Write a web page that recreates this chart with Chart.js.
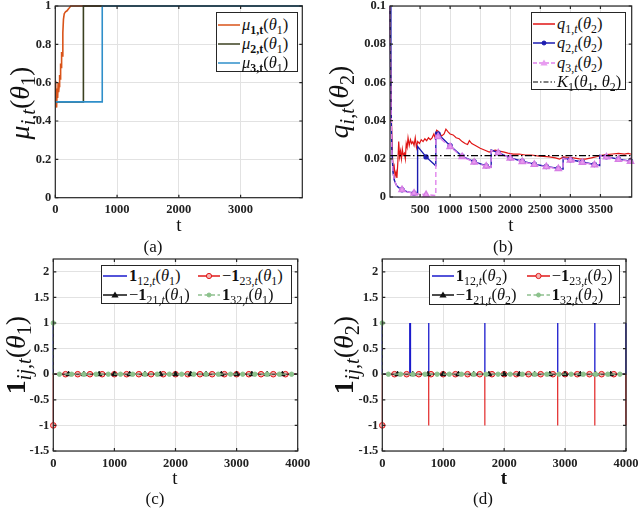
<!DOCTYPE html>
<html>
<head>
<meta charset="utf-8">
<script src="https://cdn.jsdelivr.net/npm/chart.js@4.4.1/dist/chart.umd.min.js"></script>
<style>
body{margin:0;background:#fff;width:640px;height:527px;position:relative;overflow:hidden;font-family:"Liberation Serif",serif;color:#111;}
canvas{position:absolute;}
.lg{position:absolute;border:1px solid #262626;background:#fff;box-sizing:border-box;}
.row{position:absolute;white-space:nowrap;height:18px;line-height:18px;font-size:16.5px;}
.row svg{position:absolute;left:0;top:0;}
.row span{position:absolute;top:0;}
.ylab{position:absolute;transform:translate(-50%,-50%) rotate(-90deg);font-size:28px;white-space:nowrap;line-height:1;}
.xlab,.cap{position:absolute;transform:translate(-50%,-50%);white-space:nowrap;line-height:1;}
.xlab{font-size:19px;}
.cap{font-size:17px;}
sub{font-size:0.72em;vertical-align:-0.3em;line-height:0;}
</style>
</head>
<body>
<canvas id="ca"></canvas>
<canvas id="cb"></canvas>
<canvas id="cc"></canvas>
<canvas id="cd"></canvas>

<div class="ylab" style="left:20px;top:103px"><i>μ</i><sub><i>i,t</i></sub>(<i>θ</i><sub>1</sub>)</div>
<div class="ylab" style="left:339px;top:102px"><i>q</i><sub><i>i,t</i></sub>(<i>θ</i><sub>2</sub>)</div>
<div class="ylab" style="left:16px;top:355px"><b>1</b><sub><i>ij,t</i></sub>(<i>θ</i><sub>1</sub>)</div>
<div class="ylab" style="left:344px;top:355px"><b>1</b><sub><i>ij,t</i></sub>(<i>θ</i><sub>2</sub>)</div>

<div class="xlab" style="left:179px;top:224px">t</div>
<div class="xlab" style="left:511px;top:224px">t</div>
<div class="xlab" style="left:175px;top:477px">t</div>
<div class="xlab" style="left:504px;top:477px"><b>t</b></div>

<div class="cap" style="left:153px;top:246px">(a)</div>
<div class="cap" style="left:503px;top:246px">(b)</div>
<div class="cap" style="left:155px;top:498px">(c)</div>
<div class="cap" style="left:483px;top:498px">(d)</div>

<script>
// tick values
const xTicksA = [0, 1000, 2000, 3000];
const yTicksA = [0, 0.2, 0.4, 0.6, 0.8, 1];
const xTicksB = [500, 1000, 1500, 2000, 2500, 3000, 3500];
const yTicksB = [0, 0.02, 0.04, 0.06, 0.08, 0.1];
const xTicksCD = [0, 1000, 2000, 3000, 4000];
const yTicksCD = [-1.5, -1, -0.5, 0, 0.5, 1, 1.5, 2];

// (a) beliefs mu_i,t(theta_1)
const mu1 = [[0,0.5],[6,0.61],[12,0.5],[18,0.56],[24,0.47],[30,0.57],[38,0.52],[46,0.6],[54,0.55],[62,0.58],[70,0.64],[78,0.62],[86,0.7],[94,0.68],[102,0.76],[112,0.74],[122,0.86],[132,0.93],[145,0.96],[165,0.97],[190,0.975],[215,0.985],[250,1],[3999,1]];
const mu2 = [[0,0.5],[455,0.5],[455,1],[3999,1]];
const mu3 = [[0,0.5],[760,0.5],[760,1],[3999,1]];

// (b) q_i,t(theta_2)
const q1 = [[0,0.1],[20,0.045],[40,0.022],[55,0.014],[70,0.016],[85,0.011],[100,0.013],[115,0.01],[130,0.018],[145,0.029],[160,0.021],[175,0.024],[190,0.02],[205,0.025],[220,0.022],[240,0.023],[255,0.02],[270,0.028],[285,0.026],[300,0.031],[320,0.027],[340,0.03],[360,0.028],[380,0.029],[400,0.027],[420,0.031],[440,0.026],[460,0.029],[490,0.028],[520,0.03],[550,0.029],[580,0.0305],[610,0.0295],[640,0.031],[670,0.03],[700,0.031],[730,0.033],[750,0.031],[775,0.035],[800,0.0345],[830,0.033],[860,0.032],[900,0.033],[930,0.0355],[970,0.034],[1000,0.033],[1050,0.0325],[1100,0.031],[1150,0.0305],[1200,0.029],[1250,0.028],[1290,0.0275],[1320,0.0295],[1360,0.028],[1420,0.027],[1500,0.0255],[1580,0.0245],[1650,0.0235],[1690,0.024],[1750,0.0245],[1820,0.024],[1900,0.0235],[1960,0.023],[2050,0.0225],[2150,0.0225],[2250,0.022],[2350,0.022],[2450,0.0215],[2550,0.0213],[2650,0.021],[2750,0.0205],[2820,0.0198],[2880,0.021],[2950,0.0208],[3050,0.0205],[3150,0.02],[3250,0.0198],[3350,0.0205],[3450,0.0212],[3520,0.0218],[3600,0.0222],[3700,0.0225],[3800,0.0228],[3900,0.0225],[3960,0.0228],[4020,0.0224]];
const q2 = [[0,0.1],[15,0.05],[30,0.025],[50,0.013],[70,0.009],[100,0.0065],[140,0.005],[200,0.0038],[300,0.0026],[400,0.002],[458,0.0017],[459,0.0265],[600,0.021],[761,0.0163],[762,0.0338],[800,0.033],[1000,0.0268],[1200,0.0213],[1400,0.0185],[1600,0.0163],[1682,0.0156],[1683,0.0246],[1800,0.0232],[2000,0.0205],[2200,0.0187],[2400,0.0172],[2600,0.016],[2800,0.015],[2878,0.0146],[2879,0.0203],[3000,0.0195],[3200,0.0183],[3400,0.017],[3487,0.0165],[3488,0.0218],[3600,0.0211],[3800,0.0198],[4000,0.0188],[4020,0.0187]];
const q3 = [[0,0.1],[15,0.05],[30,0.025],[50,0.013],[70,0.009],[100,0.0065],[140,0.005],[200,0.0038],[300,0.0026],[400,0.002],[459,0.0017],[600,0.0012],[762,0.0008],[763,0.0322],[800,0.0316],[1000,0.0263],[1200,0.0211],[1400,0.0182],[1600,0.0161],[1682,0.0155],[1683,0.0244],[1800,0.023],[2000,0.0203],[2200,0.0185],[2400,0.017],[2600,0.0158],[2800,0.0148],[2878,0.0144],[2879,0.0201],[3000,0.0193],[3200,0.0181],[3400,0.0168],[3487,0.0163],[3488,0.0216],[3600,0.0209],[3800,0.0196],[4000,0.0186],[4020,0.0185]];
const k1 = [[0,0.0217],[4020,0.0217]];

// (c) indicators for theta_1
const c12 = [[0,1],[1,0],[4000,0]];
const c23 = [[0,-1],[1,0],[4000,0]];
const c21 = [[0,0],[4000,0]];
const c32 = [[0,1],[1,0],[4000,0]];

// (d) indicators for theta_2
const d12 = [[0,1],[1,0],[449,0],[450,1],[451,0],[461,0],[462,1],[463,0],[761,0],[762,1],[763,0],[1682,0],[1683,1],[1684,0],[2878,0],[2879,1],[2880,0],[3487,0],[3488,1],[3489,0],[3997,0],[3998,1],[3999,0],[4000,0]];
const d23 = [[0,-1],[1,0],[761,0],[762,-1],[763,0],[1682,0],[1683,-1],[1684,0],[2878,0],[2879,-1],[2880,0],[3487,0],[3488,-1],[3489,0],[3997,0],[3998,-1],[3999,0],[4000,0]];
const d21 = [[0,0],[4000,0]];
const d32 = [[0,1],[1,0],[4000,0]];

// marker positions (same in c and d)
const mk23 = [[0,-1],[200,0],[400,0],[600,0],[800,0],[1000,0],[1200,0],[1400,0],[1600,0],[1800,0],[2000,0],[2200,0],[2400,0],[2600,0],[2800,0],[3000,0],[3200,0],[3400,0],[3600,0],[3800,0]];
const mk21 = [[250,0],[500,0],[750,0],[1000,0],[1250,0],[1500,0],[1750,0],[2000,0],[2250,0],[2500,0],[2750,0],[3000,0],[3250,0],[3500,0],[3750,0]];
const mk32 = [[0,1],[100,0],[300,0],[500,0],[700,0],[900,0],[1100,0],[1300,0],[1500,0],[1700,0],[1900,0],[2100,0],[2300,0],[2500,0],[2700,0],[2900,0],[3100,0],[3300,0],[3500,0],[3700,0],[3900,0]];

const tickFont = { family: '"Liberation Serif", "Times New Roman", serif', size: 12.5, weight: 'bold' };
const gridColor = '#e2e2e2';

const frame = {
  id: 'frame',
  afterDraw(chart) {
    const { ctx, chartArea: a, scales: { x, y } } = chart;
    ctx.save();
    ctx.strokeStyle = '#262626';
    ctx.lineWidth = 1.2;
    ctx.strokeRect(a.left, a.top, a.right - a.left, a.bottom - a.top);
    ctx.beginPath();
    x.ticks.forEach(t => {
      const p = x.getPixelForValue(t.value);
      ctx.moveTo(p, a.bottom); ctx.lineTo(p, a.bottom - 3);
      ctx.moveTo(p, a.top); ctx.lineTo(p, a.top + 3);
    });
    y.ticks.forEach(t => {
      const p = y.getPixelForValue(t.value);
      ctx.moveTo(a.left, p); ctx.lineTo(a.left + 3, p);
      ctx.moveTo(a.right, p); ctx.lineTo(a.right - 3, p);
    });
    ctx.stroke();
    ctx.restore();
  }
};

function panel(id, cv, pa, xmin, xmax, xt, ymin, ymax, yt, datasets) {
  const el = document.getElementById(id);
  el.width = cv[2]; el.height = cv[3];
  el.style.left = cv[0] + 'px'; el.style.top = cv[1] + 'px';
  el.style.width = cv[2] + 'px'; el.style.height = cv[3] + 'px';
  const YW = 34, XH = 20;
  return new Chart(el, {
    type: 'line',
    data: { datasets: datasets },
    options: {
      responsive: false,
      animation: false,
      layout: { padding: { left: pa[0] - cv[0] - YW, top: pa[1] - cv[1], right: cv[0] + cv[2] - pa[2], bottom: cv[1] + cv[3] - pa[3] - XH } },
      plugins: { legend: { display: false }, tooltip: { enabled: false } },
      elements: { point: { radius: 0, hoverRadius: 0 }, line: { tension: 0 } },
      scales: {
        x: {
          type: 'linear', min: xmin, max: xmax,
          afterBuildTicks: s => { s.ticks = xt.map(v => ({ value: v })); },
          afterFit: s => { s.height = XH; s.paddingLeft = 0; s.paddingRight = 0; },
          grid: { color: gridColor, drawTicks: false },
          border: { display: false },
          ticks: { font: tickFont, color: '#222', padding: 5, maxRotation: 0, autoSkip: false, callback: v => String(v) }
        },
        y: {
          type: 'linear', min: ymin, max: ymax,
          afterBuildTicks: s => { s.ticks = yt.map(v => ({ value: v })); },
          afterFit: s => { s.width = YW; s.paddingTop = 0; s.paddingBottom = 0; },
          grid: { color: gridColor, drawTicks: false },
          border: { display: false },
          ticks: { font: tickFont, color: '#222', padding: 4, autoSkip: false, callback: v => String(v) }
        }
      }
    },
    plugins: [frame]
  });
}

function line(data, color, width, order, extra) {
  return Object.assign({ data: data, borderColor: color, backgroundColor: color, borderWidth: width, pointRadius: 0, order: order, clip: 4 }, extra || {});
}
function marks(data, style, fill, stroke, r, order) {
  return { data: data, showLine: false, pointStyle: style, pointRadius: r, pointBackgroundColor: fill, pointBorderColor: stroke, pointBorderWidth: 1, order: order, clip: 6 };
}

// (a)
panel('ca', [0, 0, 320, 232], [55.3, 6, 302.3, 197.7], 0, 3999, xTicksA, 0, 1, yTicksA, [
  line(mu1, '#D95319', 1.6, 3),
  line(mu2, '#3b4020', 1.6, 2),
  line(mu3, '#2f8fca', 1.6, 1)
]);

// (b)
const every200 = r => (c => (c.raw && c.raw[0] > 0 && c.raw[0] % 200 === 0) ? r : 0);
panel('cb', [320, 0, 320, 232], [390, 6, 631.7, 197], 0, 4020, xTicksB, 0, 0.1, yTicksB, [
  line(q1, '#e01515', 1.2, 4),
  line(q2, '#1c1cb0', 1.4, 3, { pointRadius: every200(2), pointBackgroundColor: '#1c1cb0', pointBorderColor: '#1c1cb0' }),
  line(q3, '#e083ec', 1.4, 2, { borderDash: [5, 3], pointRadius: every200(3.6), pointStyle: 'triangle', pointBackgroundColor: '#e89cf0', pointBorderColor: '#d77ee4' }),
  line(k1, '#000', 1.2, 1, { borderDash: [7, 2.5, 1.5, 2.5] })
]);

// (c)
panel('cc', [0, 252, 320, 232], [53.3, 259, 297.7, 451], 0, 4000, xTicksCD, -1.5, 2.25, yTicksCD, [
  line(c12, '#1a1acc', 1.3, 8),
  line(c23, '#e01818', 1.3, 7),
  marks(mk23, 'circle', '#f6b4b4', '#e01818', 2.8, 6),
  line(c21, '#111', 1.0, 5),
  marks(mk21, 'triangle', '#111', '#111', 3, 4),
  line(c32, '#90c090', 1.3, 3, { borderDash: [4, 3] }),
  marks(mk32, 'circle', '#8cc28c', '#8cc28c', 2.2, 2)
]);

// (d)
panel('cd', [320, 252, 320, 232], [382.3, 259, 626, 451], 0, 4000, xTicksCD, -1.5, 2.25, yTicksCD, [
  line(d12, '#1a1acc', 1.3, 8),
  line(d23, '#e01818', 1.1, 7),
  marks(mk23, 'circle', '#f6b4b4', '#e01818', 2.8, 6),
  line(d21, '#111', 1.0, 5),
  marks(mk21, 'triangle', '#111', '#111', 3, 4),
  line(d32, '#90c090', 1.3, 3, { borderDash: [4, 3] }),
  marks(mk32, 'circle', '#8cc28c', '#8cc28c', 2.2, 2)
]);

// legends (HTML, for sub/superscripts)
function sample(w, s) {
  const cx = w / 2, cy = 9;
  const dash = s.dash ? ' stroke-dasharray="' + s.dash + '"' : '';
  let m = '';
  if (s.mark === 'circle') m = '<circle cx="' + cx + '" cy="' + cy + '" r="' + s.r + '" fill="' + s.fill + '" stroke="' + s.stroke + '" stroke-width="1"/>';
  if (s.mark === 'tri') m = '<polygon points="' + cx + ',' + (cy - 3.6) + ' ' + (cx + 3.6) + ',' + (cy + 2.6) + ' ' + (cx - 3.6) + ',' + (cy + 2.6) + '" fill="' + s.fill + '"/>';
  return '<svg width="' + w + '" height="18"><line x1="0" y1="9" x2="' + w + '" y2="9" stroke="' + s.color + '" stroke-width="' + (s.lw || 1.5) + '"' + dash + '/>' + m + '</svg>';
}
function legend(box, rows) {
  const b = document.createElement('div');
  b.className = 'lg';
  b.style.left = box[0] + 'px'; b.style.top = box[1] + 'px';
  b.style.width = box[2] + 'px'; b.style.height = box[3] + 'px';
  document.body.appendChild(b);
  rows.forEach(r => {
    const d = document.createElement('div');
    d.className = 'row';
    d.style.left = r.x + 'px'; d.style.top = (r.y - 9) + 'px';
    if (r.fs) d.style.fontSize = r.fs + 'px';
    d.innerHTML = sample(r.w, r.s) + '<span style="left:' + (r.w + 2) + 'px">' + r.html + '</span>';
    document.body.appendChild(d);
  });
}

legend([215.7, 11.7, 82, 60.5], [
  { x: 218, y: 25, w: 22, s: { color: '#D95319' }, html: '<i>μ</i><sub><b>1,t</b></sub>(<i>θ</i><sub>1</sub>)' },
  { x: 218, y: 44.3, w: 22, s: { color: '#3b4020' }, html: '<i>μ</i><sub><b>2,t</b></sub>(<i>θ</i><sub>1</sub>)' },
  { x: 218, y: 63.3, w: 22, s: { color: '#2f8fca' }, html: '<i>μ</i><sub><b>3,t</b></sub>(<i>θ</i><sub>1</sub>)' }
]);

legend([530.7, 11.7, 95.3, 78.3], [
  { x: 533, y: 24, w: 22, s: { color: '#e01515' }, html: '<i>q</i><sub>1,<i>t</i></sub>(<i>θ</i><sub>2</sub>)' },
  { x: 533, y: 43.3, w: 22, s: { color: '#1c1cb0', mark: 'circle', r: 2, fill: '#1c1cb0', stroke: '#1c1cb0' }, html: '<i>q</i><sub>2,<i>t</i></sub>(<i>θ</i><sub>2</sub>)' },
  { x: 533, y: 62.7, w: 22, s: { color: '#e083ec', dash: '4 2', mark: 'tri', fill: '#e89cf0' }, html: '<i>q</i><sub>3,<i>t</i></sub>(<i>θ</i><sub>2</sub>)' },
  { x: 533, y: 81.7, w: 22, s: { color: '#000', dash: '5 2 1.5 2', lw: 1.2 }, html: '<i>K</i><sub>1</sub>(<i>θ</i><sub>1</sub>, <i>θ</i><sub>2</sub>)' }
]);

legend([100.7, 265, 191.6, 38.5], [
  { x: 103, y: 275.7, w: 24, s: { color: '#1a1acc' }, html: '<b>1</b><sub>12,<i>t</i></sub>(<i>θ</i><sub>1</sub>)' },
  { x: 198, y: 275.7, w: 22, s: { color: '#e01818', mark: 'circle', r: 2.6, fill: '#f6b4b4', stroke: '#e01818' }, html: '−<b>1</b><sub>23,<i>t</i></sub>(<i>θ</i><sub>1</sub>)' },
  { x: 103, y: 295, w: 24, s: { color: '#111', mark: 'tri', fill: '#111' }, html: '−<b>1</b><sub>21,<i>t</i></sub>(<i>θ</i><sub>1</sub>)' },
  { x: 198, y: 295, w: 22, s: { color: '#90c090', dash: '4 2.5', mark: 'circle', r: 2, fill: '#8cc28c', stroke: '#8cc28c' }, html: '<b>1</b><sub>32,<i>t</i></sub>(<i>θ</i><sub>1</sub>)' }
]);

legend([429, 265, 191, 40], [
  { x: 431.7, y: 275.7, w: 22, s: { color: '#1a1acc' }, html: '<b>1</b><sub>12,<i>t</i></sub>(<i>θ</i><sub>2</sub>)' },
  { x: 526.7, y: 275.7, w: 23, s: { color: '#e01818', mark: 'circle', r: 2.6, fill: '#f6b4b4', stroke: '#e01818' }, html: '−<b>1</b><sub>23,<i>t</i></sub>(<i>θ</i><sub>2</sub>)' },
  { x: 431.7, y: 295, w: 22, s: { color: '#111', mark: 'tri', fill: '#111' }, html: '−<b>1</b><sub>21,<i>t</i></sub>(<i>θ</i><sub>2</sub>)' },
  { x: 526.7, y: 295, w: 23, s: { color: '#90c090', dash: '4 2.5', mark: 'circle', r: 2, fill: '#8cc28c', stroke: '#8cc28c' }, html: '<b>1</b><sub>32,<i>t</i></sub>(<i>θ</i><sub>2</sub>)' }
]);
</script>
</body>
</html>
